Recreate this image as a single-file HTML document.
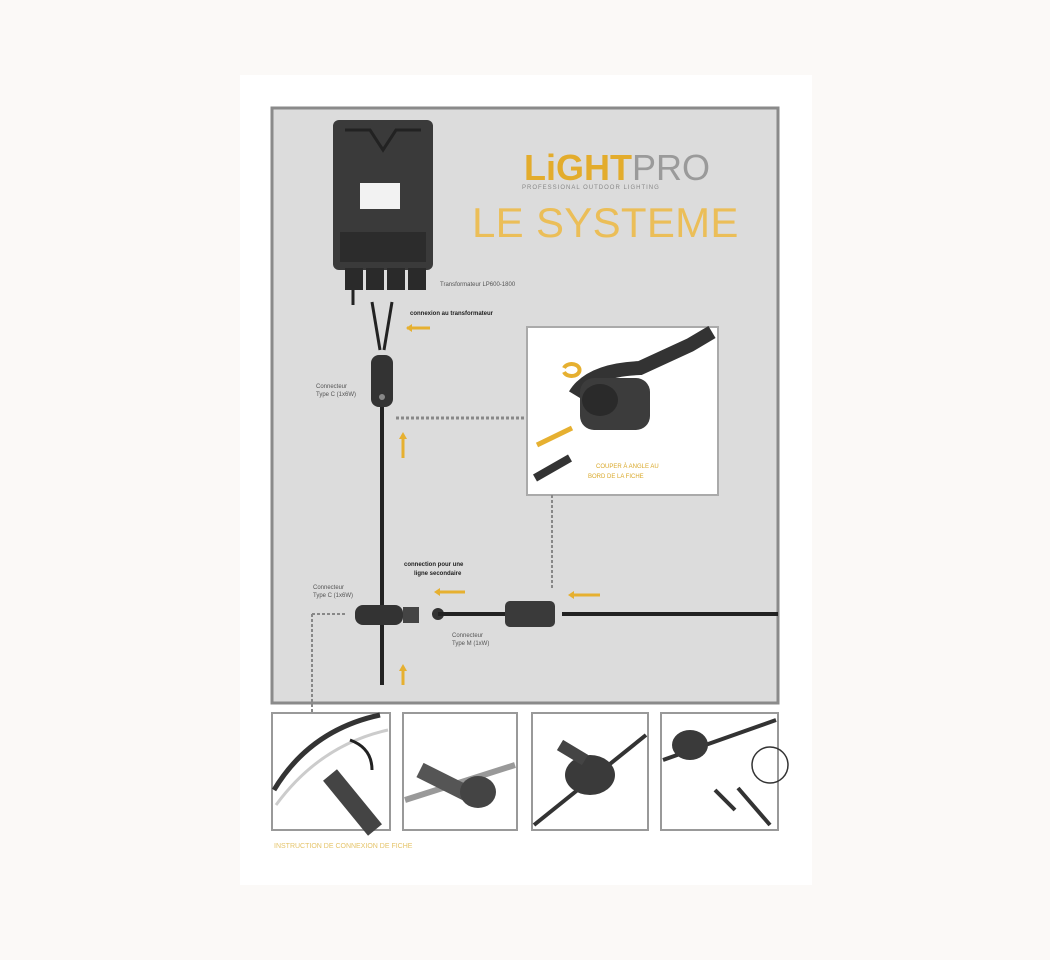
<!DOCTYPE html>
<html><head><meta charset="utf-8"><style>
html,body{margin:0;padding:0;background:#fbf9f7;}
body{width:1050px;height:960px;position:relative;overflow:hidden;font-family:"Liberation Sans",sans-serif;}
</style></head><body>
<svg width="1050" height="960" viewBox="0 0 1050 960" style="position:absolute;left:0;top:0">
<rect x="240" y="75" width="572" height="810" fill="#fff"/>
<rect x="272" y="108" width="506" height="595" fill="#dcdcdc" stroke="#8a8a8a" stroke-width="3"/>
<rect x="333" y="120" width="100" height="150" rx="6" fill="#3a3a3a"/>
<path d="M345 130 L370 130 L383 150 L396 130 L421 130" stroke="#222" stroke-width="3" fill="none"/>
<rect x="360" y="183" width="40" height="26" fill="#f2f2f2"/>
<rect x="340" y="232" width="86" height="30" fill="#2c2c2c"/>
<rect x="345" y="268" width="18" height="22" fill="#2a2a2a"/>
<rect x="366" y="268" width="18" height="22" fill="#2a2a2a"/>
<rect x="387" y="268" width="18" height="22" fill="#2a2a2a"/>
<rect x="408" y="268" width="18" height="22" fill="#2a2a2a"/>
<path d="M353 290 L353 305 M372 302 L380 350 M392 302 L384 350" stroke="#222" stroke-width="3" fill="none"/>
<text x="440" y="286" font-size="6" fill="#555">Transformateur LP600-1800</text>
<text x="410" y="315" font-size="6" font-weight="bold" fill="#222">connexion au transformateur</text>
<path d="M430 328 L407 328" stroke="#e6b030" stroke-width="3"/><path d="M406 328 l6 -4 v8z" fill="#e6b030"/>
<rect x="371" y="355" width="22" height="52" rx="8" fill="#333"/>
<circle cx="382" cy="397" r="3" fill="#888"/>
<text x="316" y="388" font-size="6" fill="#555">Connecteur</text>
<text x="316" y="396" font-size="6" fill="#555">Type C (1x6W)</text>
<line x1="382" y1="407" x2="382" y2="685" stroke="#222" stroke-width="4"/>
<line x1="396" y1="418" x2="527" y2="418" stroke="#888" stroke-width="3" stroke-dasharray="3,2"/>
<path d="M403 458 L403 436" stroke="#e6b030" stroke-width="3"/><path d="M403 432 l-4 7 h8z" fill="#e6b030"/>
<rect x="527" y="327" width="191" height="168" fill="#fff" stroke="#aaa" stroke-width="2"/>
<path d="M575 395 Q590 370 640 368 L690 345 L712 332" stroke="#333" stroke-width="14" fill="none"/>
<rect x="580" y="378" width="70" height="52" rx="14" fill="#3c3c3c"/>
<ellipse cx="600" cy="400" rx="18" ry="16" fill="#2a2a2a"/>
<path d="M564 368 a8 6 0 1 1 0 4" stroke="#e6b030" stroke-width="4" fill="none"/>
<path d="M537 445 L572 428" stroke="#e6b030" stroke-width="5"/>
<path d="M535 478 L570 458" stroke="#333" stroke-width="8"/>
<text x="596" y="468" font-size="6" fill="#d9a82a">COUPER À ANGLE AU</text>
<text x="588" y="478" font-size="6" fill="#d9a82a">BORD DE LA FICHE</text>
<line x1="552" y1="495" x2="552" y2="590" stroke="#888" stroke-width="2" stroke-dasharray="3,2"/>
<text x="524" y="180" font-size="36" font-weight="bold" fill="#e3ac2c">LiGHT<tspan font-weight="normal" fill="#9a9a9a">PRO</tspan></text>
<text x="522" y="189" font-size="6" fill="#888" letter-spacing="1">PROFESSIONAL OUTDOOR LIGHTING</text>
<text x="472" y="237" font-size="42" fill="#ebbe58" letter-spacing="0.3">LE SYSTEME</text>
<text x="404" y="566" font-size="6" font-weight="bold" fill="#222">connection pour une</text>
<text x="414" y="575" font-size="6" font-weight="bold" fill="#222">ligne secondaire</text>
<path d="M465 592 L438 592" stroke="#e6b030" stroke-width="3"/><path d="M434 592 l6 -4 v8z" fill="#e6b030"/>
<path d="M600 595 L572 595" stroke="#e6b030" stroke-width="3"/><path d="M568 595 l6 -4 v8z" fill="#e6b030"/>
<text x="313" y="589" font-size="6" fill="#555">Connecteur</text>
<text x="313" y="597" font-size="6" fill="#555">Type C (1x6W)</text>
<rect x="355" y="605" width="48" height="20" rx="8" fill="#333"/>
<rect x="403" y="607" width="16" height="16" fill="#444"/>
<circle cx="438" cy="614" r="6" fill="#333"/>
<line x1="438" y1="614" x2="510" y2="614" stroke="#222" stroke-width="4"/>
<rect x="505" y="601" width="50" height="26" rx="5" fill="#3a3a3a"/>
<line x1="562" y1="614" x2="778" y2="614" stroke="#222" stroke-width="4"/>
<text x="452" y="637" font-size="6" fill="#555">Connecteur</text>
<text x="452" y="645" font-size="6" fill="#555">Type M (1xW)</text>
<path d="M312 614 L345 614 M312 614 L312 735" stroke="#888" stroke-width="2" stroke-dasharray="3,2" fill="none"/>
<path d="M403 685 L403 668" stroke="#e6b030" stroke-width="3"/><path d="M403 664 l-4 7 h8z" fill="#e6b030"/>
<g fill="#fff" stroke="#999" stroke-width="2">
<rect x="272" y="713" width="118" height="117"/>
<rect x="403" y="713" width="114" height="117"/>
<rect x="532" y="713" width="116" height="117"/>
<rect x="661" y="713" width="117" height="117"/>
</g>
<path d="M274 790 Q310 730 380 715" stroke="#333" stroke-width="5" fill="none"/>
<path d="M276 805 Q320 745 388 730" stroke="#ccc" stroke-width="3" fill="none"/>
<path d="M330 775 L375 830" stroke="#444" stroke-width="18"/>
<path d="M350 740 Q372 748 372 770" stroke="#222" stroke-width="3" fill="none"/>
<path d="M405 800 L515 765" stroke="#999" stroke-width="6"/>
<path d="M420 770 L480 800" stroke="#555" stroke-width="16"/>
<ellipse cx="478" cy="792" rx="18" ry="16" fill="#444"/>
<path d="M534 825 L646 735" stroke="#333" stroke-width="4"/>
<ellipse cx="590" cy="775" rx="25" ry="20" fill="#3a3a3a"/>
<path d="M560 745 L585 760" stroke="#444" stroke-width="12"/>
<path d="M663 760 L776 720" stroke="#333" stroke-width="4"/>
<ellipse cx="690" cy="745" rx="18" ry="15" fill="#3a3a3a"/>
<circle cx="770" cy="765" r="18" fill="none" stroke="#333" stroke-width="1.5"/>
<path d="M715 790 L735 810 M738 788 L770 825" stroke="#333" stroke-width="4"/>
<text x="274" y="848" font-size="7" fill="#e5c46a">INSTRUCTION DE CONNEXION DE FICHE</text>
</svg>
</body></html>
